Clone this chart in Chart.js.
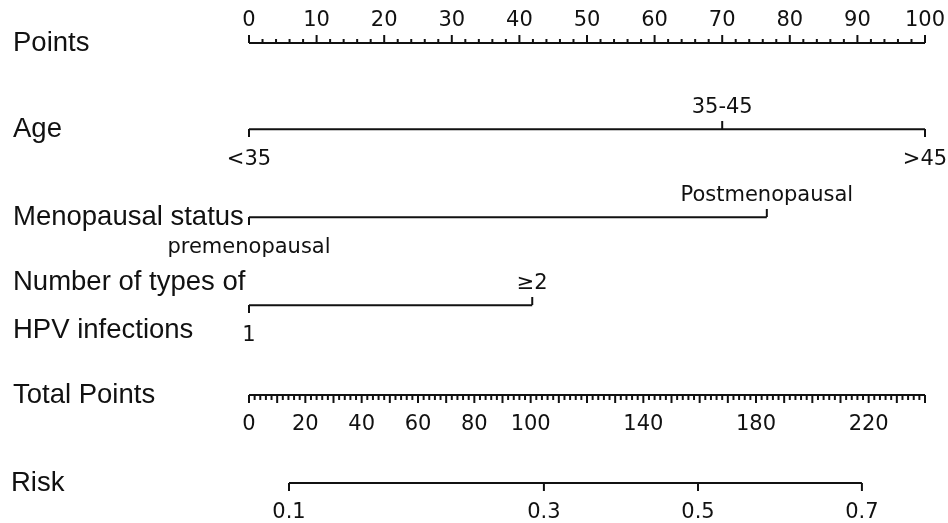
<!DOCTYPE html>
<html>
<head>
<meta charset="utf-8">
<script src="https://cdn.jsdelivr.net/npm/chart.js@4.4.0/dist/chart.umd.min.js"></script>
<style>
  html, body { margin: 0; padding: 0; background: #fff; }
  #wrap { width: 948px; height: 523px; }
</style>
</head>
<body>
<div id="wrap"><canvas id="chart"></canvas></div>
<script>
// nomogram rows, top to bottom
var rowTitles = [['Points'], ['Age'], ['Menopausal status'], ['Number of types of', 'HPV infections'], ['Total Points'], ['Risk']];

// Points scale (0-100)
var pointTicks = [0, 10, 20, 30, 40, 50, 60, 70, 80, 90, 100];

// predictors: category labels and their points
var ageLabels = ['<35', '35-45', '>45'];
var agePoints = [0, 70, 100];
var menoLabels = ['premenopausal', 'Postmenopausal'];
var menoPoints = [0, 76.6];
var hpvLabels = ['1', '≥2'];
var hpvPoints = [0, 41.9];

// Total points scale
var totalTicks = [0, 20, 40, 60, 80, 100, 140, 180, 220];
var totalMax = 240;

// Risk labels and the total points they sit at
var riskLabels = ['0.1', '0.3', '0.5', '0.7'];
var riskTotal = [14.2, 104.7, 159.4, 217.6];

var INK = '#111';
var TICK_FONT = '21px "DejaVu Sans"';
var TITLE_FONT = '27.5px "Liberation Sans"';

function rowLine(xs, row, axis) {
    return {
        data: xs.map(function (v) { return { x: v, y: row }; }),
        xAxisID: axis,
        yAxisID: 'y',
        showLine: true,
        borderColor: INK,
        borderWidth: 2,
        pointRadius: 0,
        clip: false
    };
}

// draws the ticks, tick labels and row titles on top of the lines
var nomogramPlugin = {
    id: 'nomogram',
    afterDatasetsDraw: function (chart) {
        var ctx = chart.ctx;
        var xs = chart.scales.x, xt = chart.scales.xt, ys = chart.scales.y;
        ctx.save();
        ctx.strokeStyle = INK;
        ctx.fillStyle = INK;
        ctx.lineWidth = 2;

        function tick(px, py, len) {
            ctx.beginPath();
            ctx.moveTo(px, py);
            ctx.lineTo(px, py + len);
            ctx.stroke();
        }
        function label(txt, px, py) {
            ctx.font = TICK_FONT;
            ctx.textAlign = 'center';
            ctx.textBaseline = 'middle';
            ctx.fillText(txt, px, py);
        }

        // Points row: minor every 2, major every 10, ticks pointing up
        var y0 = ys.getPixelForValue(0);
        for (var p = 0; p <= 100; p += 2) {
            tick(xs.getPixelForValue(p), y0, p % 10 === 0 ? -8 : -4);
        }
        pointTicks.forEach(function (v) { label(String(v), xs.getPixelForValue(v), y0 - 22); });

        // categorical rows: first label below, others above
        function catRow(labels, pts, row) {
            var yy = ys.getPixelForValue(row) - 2;
            labels.forEach(function (lab, i) {
                var px = xs.getPixelForValue(pts[i]);
                var above = (row === 1) ? (i === 1) : (i > 0);
                tick(px, yy, above ? -8 : 8);
                label(lab, px, above ? yy - 21 : yy + 31);
            });
        }
        catRow(ageLabels, agePoints, 1);
        catRow(menoLabels, menoPoints, 2);
        catRow(hpvLabels, hpvPoints, 3);

        // Total points row, ticks pointing down
        var y4 = ys.getPixelForValue(4);
        for (var t = 0; t <= totalMax; t += 2) {
            tick(xt.getPixelForValue(t), y4, t % 10 === 0 ? 8 : 5);
        }
        totalTicks.forEach(function (v) { label(String(v), xt.getPixelForValue(v), y4 + 30); });

        // Risk row
        var y5 = ys.getPixelForValue(5);
        riskLabels.forEach(function (lab, i) {
            var px = xt.getPixelForValue(riskTotal[i]);
            tick(px, y5, 8);
            label(lab, px, y5 + 30);
        });

        // row titles
        ctx.font = TITLE_FONT;
        ctx.textAlign = 'left';
        ctx.textBaseline = 'middle';
        rowTitles.forEach(function (lines, r) {
            var yy = ys.getPixelForValue(r);
            if (r >= 1 && r <= 3) yy -= 2;
            if (lines.length === 1) {
                ctx.fillText(lines[0], r === 5 ? 11 : 13, yy);
            } else {
                ctx.fillText(lines[0], 13, yy - 23);
                ctx.fillText(lines[1], 13, yy + 25);
            }
        });
        ctx.restore();
    }
};

var ctx = document.getElementById('chart').getContext('2d');
var chart = new Chart(ctx, {
    type: 'scatter',
    data: {
        datasets: [
            rowLine([0, 100], 0, 'x'),
            rowLine([agePoints[0], agePoints[agePoints.length - 1]], 0.98, 'x'),
            rowLine([menoPoints[0], menoPoints[menoPoints.length - 1]], 1.98, 'x'),
            rowLine([hpvPoints[0], hpvPoints[hpvPoints.length - 1]], 2.98, 'x'),
            rowLine([0, totalMax], 4, 'xt'),
            rowLine([riskTotal[0], riskTotal[riskTotal.length - 1]], 5, 'xt')
        ]
    },
    options: {
        responsive: true,
        maintainAspectRatio: false,
        animation: false,
        layout: { padding: { left: 249, right: 23, top: 43, bottom: 40 } },
        scales: {
            x: { type: 'linear', min: 0, max: 100, display: false },
            xt: { type: 'linear', min: 0, max: totalMax, display: false },
            y: { type: 'linear', min: 0, max: 5, reverse: true, display: false }
        },
        plugins: {
            legend: { display: false },
            tooltip: { enabled: false }
        }
    },
    plugins: [nomogramPlugin]
});
</script>
</body>
</html>
